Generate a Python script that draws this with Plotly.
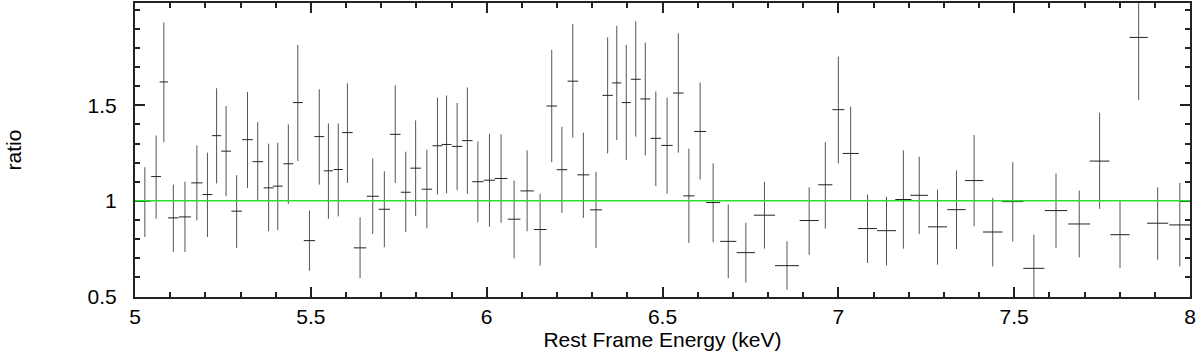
import plotly.graph_objs as go

# Spectral bins (keV), ratio values and error-bar bounds
energy = [5.028, 5.060, 5.082, 5.109, 5.142, 5.176, 5.206, 5.232, 5.259, 5.289, 5.320, 5.349, 5.380, 5.406, 5.436, 5.463, 5.496, 5.524, 5.550, 5.578, 5.604, 5.640,
          5.676, 5.709, 5.740, 5.770, 5.798, 5.830, 5.860, 5.886, 5.916, 5.945, 5.975, 6.008, 6.041, 6.078, 6.115, 6.152, 6.185, 6.214, 6.245, 6.275, 6.311, 6.344, 6.370, 6.397, 6.424,
          6.451, 6.481, 6.513, 6.545, 6.575, 6.607, 6.644, 6.687, 6.737, 6.790, 6.854, 6.917, 6.963, 7.000, 7.035, 7.083, 7.137, 7.185,
          7.230, 7.282, 7.336, 7.386, 7.439, 7.496, 7.556, 7.619, 7.685, 7.743, 7.801, 7.854, 7.908, 7.971]

ratio = [0.998, 1.127, 1.622, 0.911, 0.916, 1.094, 1.033, 1.341, 1.260, 0.946, 1.320, 1.205, 1.068, 1.077, 1.194, 1.514, 0.792, 1.336, 1.157, 1.164, 1.357, 0.754,
         1.024, 0.956, 1.348, 1.045, 1.171, 1.061, 1.288, 1.295, 1.285, 1.315, 1.100, 1.108, 1.117, 0.904, 1.052, 0.850, 1.496, 1.163, 1.626, 1.136, 0.953, 1.552, 1.617, 1.514, 1.636,
         1.533, 1.327, 1.290, 1.564, 1.026, 1.363, 0.991, 0.788, 0.729, 0.925, 0.661, 0.897, 1.084, 1.477, 1.248, 0.855, 0.844, 1.007,
         1.029, 0.864, 0.954, 1.106, 0.837, 0.996, 0.647, 0.949, 0.879, 1.208, 0.823, 1.855, 0.883, 0.874]

ratio_upper = [1.176, 1.342, 1.933, 1.085, 1.100, 1.290, 1.252, 1.589, 1.496, 1.134, 1.570, 1.412, 1.299, 1.304, 1.400, 1.816, 0.949, 1.584, 1.405, 1.405, 1.615, 0.914,
               1.222, 1.155, 1.605, 1.257, 1.421, 1.267, 1.540, 1.551, 1.512, 1.593, 1.311, 1.351, 1.348, 1.106, 1.264, 1.038, 1.790, 1.388, 1.925, 1.357, 1.152, 1.855, 1.916, 1.816, 1.939,
               1.828, 1.572, 1.540, 1.877, 1.273, 1.619, 1.196, 0.981, 0.885, 1.100, 0.788, 1.071, 1.307, 1.755, 1.493, 1.033, 1.021, 1.264,
               1.231, 1.059, 1.159, 1.344, 1.016, 1.202, 0.823, 1.143, 1.054, 1.461, 0.998, 2.180, 1.071, 1.094]

ratio_lower = [0.811, 0.907, 1.307, 0.733, 0.733, 0.898, 0.811, 1.091, 1.024, 0.754, 1.068, 0.998, 0.841, 0.846, 0.984, 1.208, 0.634, 1.085, 0.906, 0.919, 1.094, 0.596,
               0.827, 0.757, 1.094, 0.837, 0.921, 0.856, 1.033, 1.040, 1.056, 1.037, 0.888, 0.864, 0.885, 0.699, 0.841, 0.661, 1.202, 0.937, 1.330, 0.911, 0.754, 1.248, 1.318, 1.213, 1.336,
               1.238, 1.077, 1.037, 1.252, 0.780, 1.112, 0.783, 0.596, 0.573, 0.750, 0.535, 0.718, 0.855, 1.196, 1.002, 0.675, 0.662, 0.750,
               0.827, 0.666, 0.748, 0.867, 0.657, 0.787, 0.460, 0.754, 0.704, 0.958, 0.649, 1.528, 0.692, 0.657]

# bin half-widths (keV)
bin_half = [0.016, 0.014, 0.012, 0.015, 0.017, 0.016, 0.014, 0.013, 0.014, 0.015, 0.015, 0.015, 0.014, 0.014, 0.014, 0.014, 0.016, 0.014, 0.013, 0.013, 0.015, 0.018,
            0.017, 0.016, 0.015, 0.014, 0.015, 0.015, 0.014, 0.014, 0.015, 0.015, 0.016, 0.016, 0.018, 0.018, 0.019, 0.018, 0.015, 0.015, 0.015, 0.017, 0.017, 0.015, 0.013, 0.013, 0.014,
            0.014, 0.015, 0.016, 0.015, 0.016, 0.017, 0.020, 0.023, 0.026, 0.030, 0.034, 0.027, 0.020, 0.017, 0.023, 0.027, 0.027, 0.023,
            0.025, 0.027, 0.026, 0.026, 0.028, 0.030, 0.030, 0.032, 0.031, 0.028, 0.027, 0.026, 0.030, 0.030]

model_level = 1.0
y_tickvals = [0.5, 1, 1.5]

err_plus = [u - r for u, r in zip(ratio_upper, ratio)]
err_minus = [r - l for r, l in zip(ratio, ratio_lower)]

fig = go.Figure()

# model line
fig.add_hline(y=model_level, line=dict(color="rgb(40,225,40)", width=1.5))

# data crosses
fig.add_trace(go.Scatter(
    x=energy,
    y=ratio,
    mode="markers",
    marker=dict(size=1, color="rgba(0,0,0,0)"),
    error_y=dict(type="data", symmetric=False, array=err_plus, arrayminus=err_minus,
                 color="#555555", thickness=1, width=0),
    error_x=dict(type="data", array=bin_half, color="#222222", thickness=1, width=0),
    showlegend=False,
    hoverinfo="skip",
))

axis_font = dict(family="Liberation Sans, Arial, sans-serif", size=21, color="black")

fig.update_xaxes(
    range=[5, 8],
    dtick=0.5,
    tick0=5,
    ticks="inside",
    ticklen=10,
    tickwidth=1.5,
    tickcolor="#222",
    mirror="allticks",
    showline=True,
    linewidth=2,
    linecolor="#222",
    showgrid=False,
    zeroline=False,
    automargin=False,
    tickfont=axis_font,
    ticklabelstandoff=0,
    minor=dict(tickmode="linear", tick0=5, dtick=0.1, ticks="inside", ticklen=5,
               tickwidth=1.5, tickcolor="#222", showgrid=False),
    title=dict(text="Rest Frame Energy (keV)", font=axis_font, standoff=2),
)
fig.update_yaxes(
    range=[0.497, 2.035],
    tickvals=y_tickvals,
    ticktext=["0.5", "1", "1.5"],
    ticks="inside",
    ticklen=10,
    tickwidth=1.5,
    tickcolor="#222",
    mirror="allticks",
    showline=True,
    linewidth=2,
    linecolor="#222",
    showgrid=False,
    zeroline=False,
    automargin=False,
    tickfont=axis_font,
    ticklabelstandoff=12,
    minor=dict(tickmode="linear", tick0=0, dtick=0.1, ticks="inside", ticklen=5,
               tickwidth=1.5, tickcolor="#222", showgrid=False),
    title=dict(text="ratio", font=axis_font, standoff=60),
)

fig.update_layout(
    width=1200,
    height=360,
    margin=dict(l=135, r=10, t=3, b=63),
    plot_bgcolor="white",
    paper_bgcolor="white",
    showlegend=False,
)

# drop the default page margin so the figure sits at the window corner
fig.write_html("out.html", config={"displayModeBar": False},
               post_script="document.body.style.margin = '0';")
